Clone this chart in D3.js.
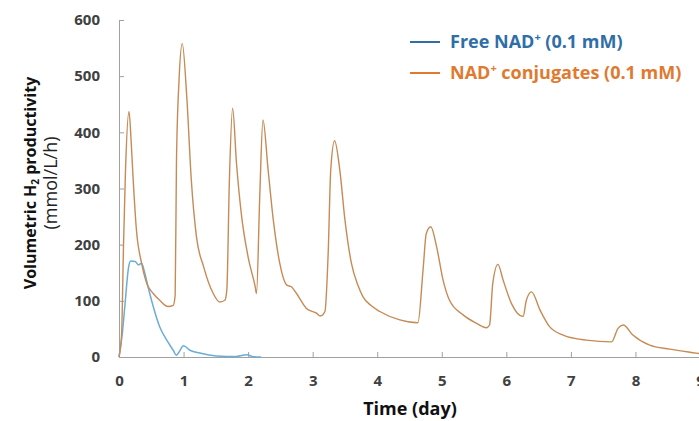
<!DOCTYPE html>
<html lang="en">
<head>
<meta charset="UTF-8">
<title>H2 productivity</title>
<script src="https://cdn.jsdelivr.net/npm/d3@7"></script>
<style>
  body { margin: 0; background: #fff; }
  svg { font-family: "Open Sans", sans-serif; }
  .tick text { font-family: "Open Sans", sans-serif; font-weight: 700; fill: #404040; font-size: 15px; }
  .axis path, .axis line { stroke: #a0a0a0; }
</style>
</head>
<body>
<svg id="chart" width="699" height="421"></svg>
<script>
// data: time (day) and productivity (mmol/L/h)
var freeDays = [0, 0.05, 0.09, 0.15, 0.18, 0.25, 0.3, 0.35, 0.4, 0.45, 0.53, 0.63, 0.74, 0.84, 0.89, 0.92, 1.0, 1.1, 1.25, 1.51, 1.82, 1.98, 2.08, 2.2];
var freeVals = [0, 40, 90, 161, 171, 170, 164, 167, 149, 125, 90, 54, 30, 12, 3, 7, 20, 12, 7, 2, 1, 4, 0.5, 0];

var conjDays = [0, 0.04, 0.07, 0.1, 0.155, 0.19, 0.22, 0.27, 0.35, 0.43, 0.53, 0.63, 0.76, 0.84, 0.87, 0.89, 0.93, 0.98,
  1.05, 1.12, 1.2, 1.31, 1.46, 1.56, 1.64, 1.67, 1.71, 1.76,
  1.82, 1.9, 2.0, 2.11, 2.13, 2.18, 2.23,
  2.31, 2.39, 2.49, 2.6, 2.67, 2.75, 2.9, 3.06, 3.12, 3.19, 3.24, 3.28, 3.34,
  3.42, 3.5, 3.6, 3.7, 3.78, 3.9, 4.04, 4.35, 4.63, 4.71, 4.76, 4.83,
  4.92, 5.02, 5.12, 5.33, 5.54, 5.69, 5.74, 5.79, 5.87,
  5.95, 6.08, 6.26, 6.31, 6.39,
  6.52, 6.67, 6.88, 7.24, 7.63, 7.73, 7.81,
  7.96, 8.22, 8.53, 8.94, 9.0];
var conjVals = [0, 40, 200, 330, 437, 380, 315, 226, 167, 131, 113, 101, 90, 92, 110, 345, 493, 558,
  463, 315, 214, 161, 113, 98, 101, 119, 315, 443,
  345, 250, 178, 125, 113, 285, 422,
  333, 244, 167, 128, 125, 113, 87, 78, 73, 81, 184, 333, 385,
  333, 244, 167, 128, 107, 92, 81, 66, 61, 155, 220, 232,
  196, 137, 101, 75, 60, 52, 57, 131, 165,
  137, 95, 72, 101, 116,
  84, 54, 39, 30, 27, 51, 57,
  39, 21, 14, 7, 6];

var xTicks = [0, 1, 2, 3, 4, 5, 6, 7, 8, 9];
var yTicks = [0, 100, 200, 300, 400, 500, 600];

var svg = d3.select("#chart"),
  plotLeft = 119, plotRight = 700, plotTop = 20, plotBottom = 357;

var x = d3.scaleLinear().domain([0, 9]).range([plotLeft, plotRight]);
var y = d3.scaleLinear().domain([0, 600]).range([plotBottom, plotTop]);

svg.append("g")
  .attr("class", "axis")
  .attr("transform", "translate(0," + plotBottom + ")")
  .call(d3.axisBottom(x).tickValues(xTicks).tickSizeInner(-5).tickSizeOuter(0).tickPadding(18));

svg.append("g")
  .attr("class", "axis")
  .attr("transform", "translate(" + plotLeft + ",0)")
  .call(d3.axisLeft(y).tickValues(yTicks).tickSizeInner(-5).tickSizeOuter(0).tickPadding(19));

var line = d3.line()
  .x(function (d) { return x(d[0]); })
  .y(function (d) { return y(d[1]); })
  .curve(d3.curveMonotoneX);

svg.append("path")
  .datum(d3.zip(freeDays, freeVals))
  .attr("fill", "none")
  .attr("stroke", "#6aaed6")
  .attr("stroke-width", 1.5)
  .attr("d", line);

svg.append("path")
  .datum(d3.zip(conjDays, conjVals))
  .attr("fill", "none")
  .attr("stroke", "#c68b55")
  .attr("stroke-width", 1.4)
  .attr("d", line);

// legend
var legend = [
  { name: "Free NAD", color: "#2f6ea6", y: 42 },
  { name: "NAD", color: "#e07a30", y: 73 }
];
legend.forEach(function (l, i) {
  svg.append("line")
    .attr("x1", 410).attr("x2", 440)
    .attr("y1", l.y).attr("y2", l.y)
    .attr("stroke", l.color).attr("stroke-width", 2);
  var t = svg.append("text")
    .attr("x", 450).attr("y", l.y + 6)
    .attr("fill", l.color)
    .attr("font-size", 18).attr("font-weight", 700);
  t.append("tspan").text(l.name);
  t.append("tspan").text("+").attr("font-size", 11).attr("dy", -7);
  t.append("tspan").attr("dy", 7).text(i == 0 ? " (0.1 mM)" : " conjugates (0.1 mM)");
});

// axis titles
svg.append("text")
  .attr("x", 410).attr("y", 415)
  .attr("text-anchor", "middle")
  .attr("font-size", 18).attr("font-weight", 700)
  .attr("fill", "#111")
  .text("Time (day)");

var yt = svg.append("text")
  .attr("transform", "translate(36,183) rotate(-90)")
  .attr("text-anchor", "middle")
  .attr("font-size", 16).attr("font-weight", 700)
  .attr("fill", "#111");
yt.append("tspan").text("Volumetric H");
yt.append("tspan").text("2").attr("font-size", 10).attr("dy", 3);
yt.append("tspan").text(" productivity").attr("dy", -3);

svg.append("text")
  .attr("transform", "translate(57,183) rotate(-90)")
  .attr("text-anchor", "middle")
  .attr("font-size", 18)
  .attr("fill", "#222")
  .text("(mmol/L/h)");
</script>
</body>
</html>
